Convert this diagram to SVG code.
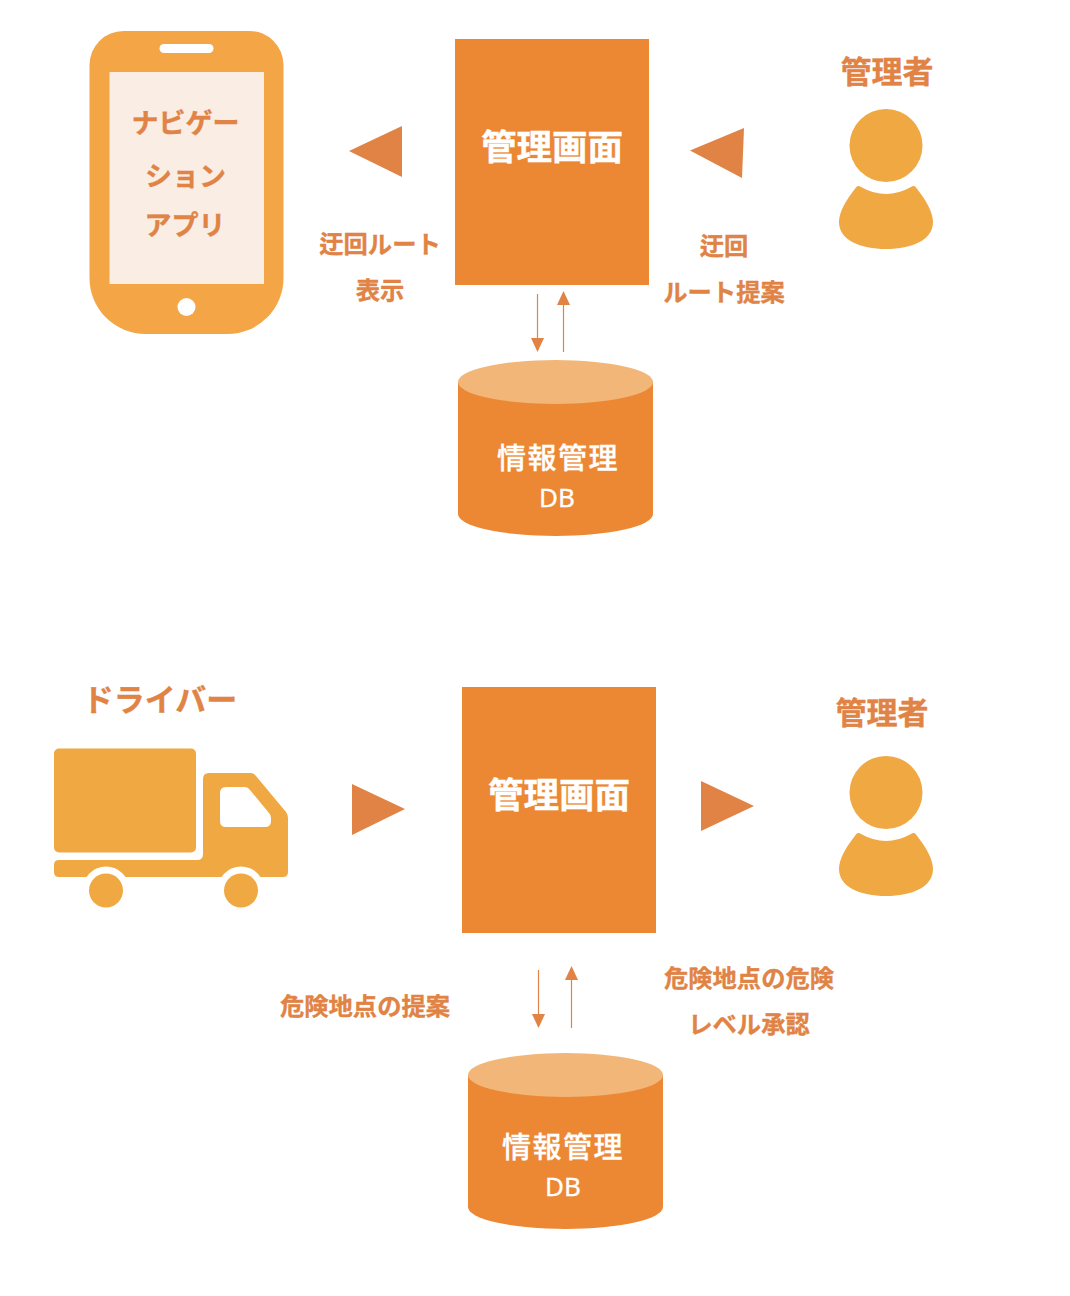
<svg xmlns="http://www.w3.org/2000/svg" width="1070" height="1296" viewBox="0 0 1070 1296">
<style>
text{font-family:"Noto Sans CJK JP","Noto Sans",sans-serif;text-anchor:middle}
.lab{fill:#E08345;stroke:#E08345;stroke-width:.35;font-weight:700}
.s24{font-size:24.300px}.s27{font-size:27px}.s31{font-size:31px}
.scr{fill:#EC8834}.ttl{fill:#fff;stroke:#fff;stroke-width:.4;font-weight:700;font-size:35.500px}
.db{fill:#fff;stroke:#fff;stroke-width:.3;font-weight:500}.dbj{font-size:29px;letter-spacing:1.500px}.dbl{font-size:26px;font-family:"Noto Sans",sans-serif;font-weight:400}
.tri{fill:#E08345}.link{stroke:#E08345;stroke-width:1.200;fill:none}
.dbtop{fill:#F2B679}.person{fill:#F0A842}
</style>
<defs>
<marker id="ah" markerUnits="userSpaceOnUse" markerWidth="14" markerHeight="14" refX="12" refY="6.500" orient="auto"><path d="M0 0L14 6.500L0 13Z" fill="#E08345"/></marker>
<g id="personShape"><circle cx="886" cy="145.500" r="36.500"/><path d="M856 187.500Q858 185 861 187Q886 201 911 187Q914 185 916 187.500C926 200 933 212 933 222C933 240 912 249 886 249C860 249 839 240 839 222C839 212 846 200 856 187.500Z"/></g>
</defs>
<g id="connectors">
<polygon class="tri" points="349,151 402,126 402,177"/>
<polygon class="tri" points="690,150.500 744,128 742,178"/>
<polygon class="tri" points="352,784 405,809 352,835"/>
<polygon class="tri" points="701,781 754,806 701,831"/>
<line class="link" x1="537.500" y1="294" x2="537.500" y2="350" marker-end="url(#ah)"/>
<line class="link" x1="563.500" y1="352" x2="563.500" y2="293" marker-end="url(#ah)"/>
<line class="link" x1="538.500" y1="970" x2="538.500" y2="1026" marker-end="url(#ah)"/>
<line class="link" x1="571.500" y1="1028" x2="571.500" y2="968" marker-end="url(#ah)"/>
</g>
<g id="phone">
<path d="M123.500 31H249.500A34 34 0 0 1 283.500 65V278A56 56 0 0 1 227.500 334H145.500A56 56 0 0 1 89.500 278V65A34 34 0 0 1 123.500 31Z" fill="#F4A646"/>
<rect x="159.500" y="44" width="54" height="9" rx="4.500" fill="#fff"/>
<rect x="109.500" y="72" width="154.500" height="212" fill="#F9EDE4"/>
<circle cx="186.500" cy="307" r="9" fill="#fff"/>
<text class="lab s27" x="185.500" y="133">ナビゲー</text>
<text class="lab s27" x="185.500" y="186">ション</text>
<text class="lab s27" x="185" y="235">アプリ</text>
</g>
<g id="screen-top"><rect class="scr" x="455" y="39" width="194" height="246"/><text class="ttl" x="552" y="160">管理画面</text></g>
<g id="admin-top"><text class="lab s31" x="887" y="83">管理者</text><use href="#personShape" class="person"/></g>
<g id="label-route-show"><text class="lab s24" x="380" y="253">迂回ルート</text><text class="lab s24" x="380" y="299">表示</text></g>
<g id="label-route-suggest"><text class="lab s24" x="724" y="255">迂回</text><text class="lab s24" x="724" y="301">ルート提案</text></g>
<g id="db-top">
<path class="scr" d="M458 382V514A97.500 22 0 0 0 653 514V382Z"/>
<ellipse class="dbtop" cx="555.500" cy="382" rx="97.500" ry="22"/>
<text class="db dbj" x="558" y="469">情報管理</text><text class="db dbl" x="557" y="507">DB</text>
</g>
<g id="driver">
<text class="lab s31" x="160" y="711">ドライバー</text>
<rect x="54" y="748.500" width="142" height="104" rx="5" fill="#F0A842"/>
<path fill="#F0A842" fill-rule="evenodd" d="M59 860H197Q203 860 203 854V779Q203 773 209 773H251Q254 773 256 776L286 812Q288 815 288 818V872Q288 877 283 877H59Q54 877 54 872V865Q54 860 59 860ZM226 787Q220 787 220 793V821Q220 827 226 827H265Q271 827 271 821V818Q271 815 269 813L250 790Q248 787 245 787Z"/>
<circle cx="106" cy="890" r="23.500" fill="#fff"/><circle cx="241" cy="890" r="23.500" fill="#fff"/>
<circle cx="106" cy="890.500" r="17" fill="#F0A842"/><circle cx="241" cy="890.500" r="17" fill="#F0A842"/>
</g>
<g id="screen-bottom"><rect class="scr" x="462" y="687" width="194" height="246"/><text class="ttl" x="559" y="808">管理画面</text></g>
<g id="admin-bottom"><text class="lab s31" x="882" y="724">管理者</text><use href="#personShape" class="person" y="647"/></g>
<g id="label-danger-suggest"><text class="lab s24" x="365" y="1014.500">危険地点の提案</text></g>
<g id="label-danger-approve"><text class="lab s24" x="749" y="986.500">危険地点の危険</text><text class="lab s24" x="749" y="1032.500">レベル承認</text></g>
<g id="db-bottom">
<path class="scr" d="M468 1075V1207A97.500 22 0 0 0 663 1207V1075Z"/>
<ellipse class="dbtop" cx="565.500" cy="1075" rx="97.500" ry="22"/>
<text class="db dbj" x="563" y="1158">情報管理</text><text class="db dbl" x="563" y="1196">DB</text>
</g>
</svg>
